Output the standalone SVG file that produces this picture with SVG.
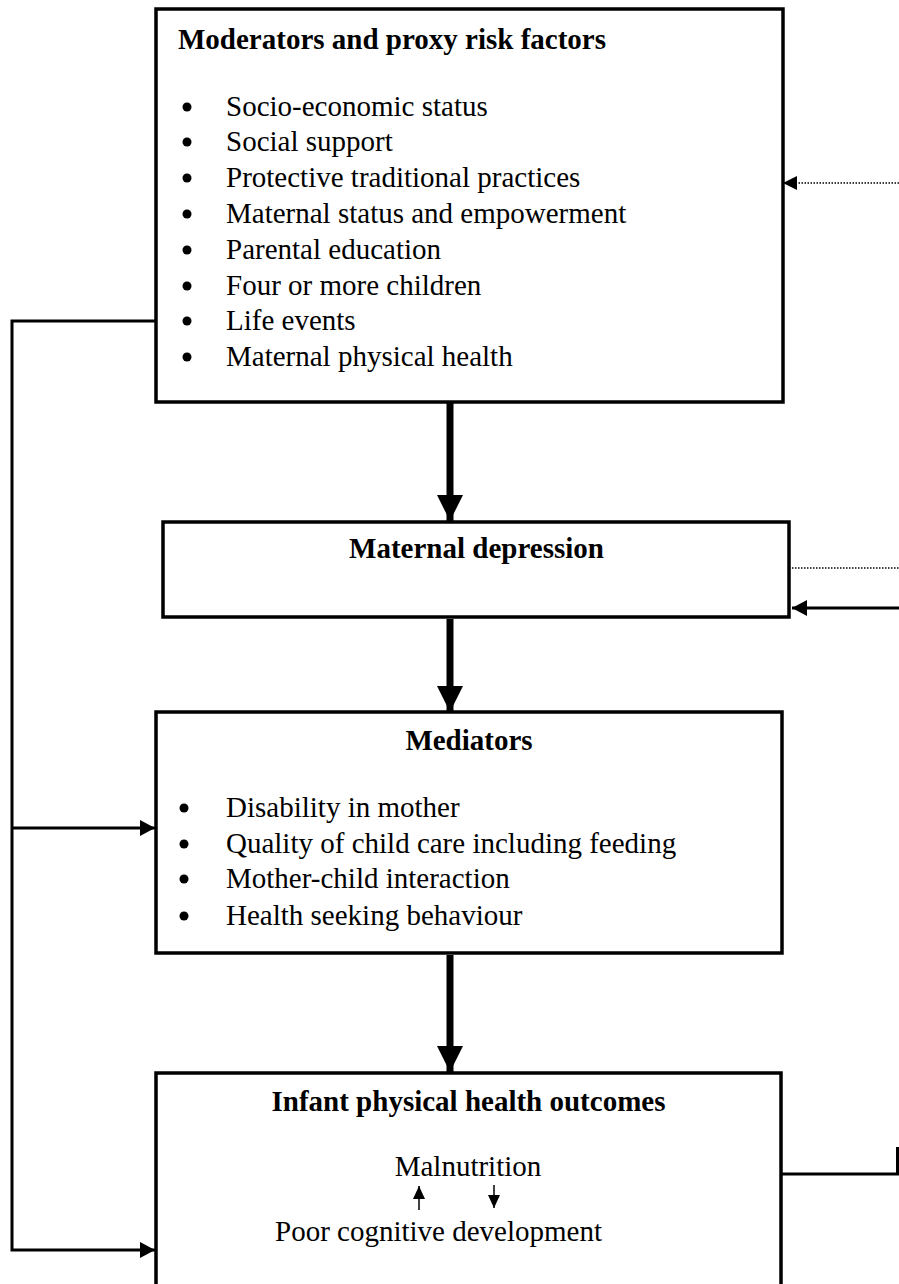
<svg xmlns="http://www.w3.org/2000/svg" width="899" height="1284" viewBox="0 0 899 1284">
  <style>
    .box { fill: #ffffff; stroke: #000000; stroke-width: 3.5; }
    .title { font-family: "Liberation Serif", "Times New Roman", serif; font-size: 29px; font-weight: bold; fill: #000000; }
    .item { font-family: "Liberation Serif", "Times New Roman", serif; font-size: 29px; fill: #000000; }
    .bullet { fill: #000000; }
    .thick { stroke: #000000; stroke-width: 7; fill: none; }
    .solid { stroke: #000000; stroke-width: 3; fill: none; }
    .dotted { stroke: #000000; stroke-width: 1.5; stroke-dasharray: 1.5 1.5; fill: none; }
    .fine { stroke: #000000; stroke-width: 1.5; fill: none; }
  </style>
  <defs>
    <marker id="bigHead" markerUnits="userSpaceOnUse" markerWidth="26" markerHeight="26" refX="26" refY="13" orient="auto">
      <path d="M0,0 L26,13 L0,26 z" fill="#000000"/>
    </marker>
    <marker id="head" markerUnits="userSpaceOnUse" markerWidth="16" markerHeight="16" refX="15" refY="8" orient="auto">
      <path d="M0,0 L15,8 L0,16 z" fill="#000000"/>
    </marker>
    <marker id="smallHead" markerUnits="userSpaceOnUse" markerWidth="13" markerHeight="12" refX="13" refY="6" orient="auto">
      <path d="M0,0 L13,6 L0,12 z" fill="#000000"/>
    </marker>
  </defs>

  <!-- connectors -->
  <g id="connectors">
    <!-- vertical flow between boxes -->
    <line class="thick" x1="450" y1="403" x2="450" y2="521" marker-end="url(#bigHead)"/>
    <line class="thick" x1="450" y1="619" x2="450" y2="712" marker-end="url(#bigHead)"/>
    <line class="thick" x1="450" y1="955" x2="450" y2="1072" marker-end="url(#bigHead)"/>
    <!-- left-hand feed from moderators to mediators and outcomes -->
    <polyline class="solid" points="156,321 12,321 12,1250 155,1250" marker-end="url(#head)"/>
    <line class="solid" x1="12" y1="828" x2="155" y2="828" marker-end="url(#head)"/>
    <!-- right-hand links -->
    <line class="dotted" x1="899" y1="183" x2="784" y2="183"/>
    <path d="M783,183 L797,176 L797,190 z" fill="#000000"/>
    <line class="dotted" x1="780" y1="568" x2="899" y2="568"/>
    <line class="solid" x1="899" y1="608" x2="792" y2="608" marker-end="url(#head)"/>
    <polyline class="solid" points="782,1174 897.5,1174 897.5,1147"/>
  </g>

  <!-- moderators and proxy risk factors -->
  <g id="moderators">
    <rect class="box" x="156" y="9" width="627" height="393"/>
    <text class="title" x="178" y="49">Moderators and proxy risk factors</text>
    <g class="bullet">
      <circle cx="187" cy="107" r="4.5"/>
      <circle cx="187" cy="142" r="4.5"/>
      <circle cx="187" cy="178" r="4.5"/>
      <circle cx="187" cy="214" r="4.5"/>
      <circle cx="187" cy="250" r="4.5"/>
      <circle cx="187" cy="286" r="4.5"/>
      <circle cx="187" cy="321" r="4.5"/>
      <circle cx="187" cy="357" r="4.5"/>
    </g>
    <text class="item" x="226" y="116">Socio-economic status</text>
    <text class="item" x="226" y="151">Social support</text>
    <text class="item" x="226" y="187">Protective traditional practices</text>
    <text class="item" x="226" y="223">Maternal status and empowerment</text>
    <text class="item" x="226" y="259">Parental education</text>
    <text class="item" x="226" y="295">Four or more children</text>
    <text class="item" x="226" y="330">Life events</text>
    <text class="item" x="226" y="366">Maternal physical health</text>
  </g>

  <!-- maternal depression -->
  <g id="depression">
    <rect class="box" x="163" y="522" width="626" height="95"/>
    <text class="title" x="476.5" y="558" text-anchor="middle">Maternal depression</text>
  </g>

  <!-- mediators -->
  <g id="mediators">
    <rect class="box" x="156" y="712" width="626" height="241"/>
    <text class="title" x="469" y="750" text-anchor="middle">Mediators</text>
    <g class="bullet">
      <circle cx="184" cy="808" r="4.5"/>
      <circle cx="184" cy="844" r="4.5"/>
      <circle cx="184" cy="879" r="4.5"/>
      <circle cx="184" cy="916" r="4.5"/>
    </g>
    <text class="item" x="226" y="817">Disability in mother</text>
    <text class="item" x="226" y="853">Quality of child care including feeding</text>
    <text class="item" x="226" y="888">Mother-child interaction</text>
    <text class="item" x="226" y="925">Health seeking behaviour</text>
  </g>

  <!-- infant physical health outcomes -->
  <g id="outcomes">
    <rect class="box" x="156" y="1073" width="625" height="240"/>
    <text class="title" x="468.5" y="1111" text-anchor="middle">Infant physical health outcomes</text>
    <text class="item" x="468" y="1176" text-anchor="middle">Malnutrition</text>
    <line class="fine" x1="419" y1="1210" x2="419" y2="1186" marker-end="url(#smallHead)"/>
    <line class="fine" x1="494" y1="1185" x2="494" y2="1208" marker-end="url(#smallHead)"/>
    <text class="item" x="438.5" y="1241" text-anchor="middle">Poor cognitive development</text>
  </g>
</svg>
